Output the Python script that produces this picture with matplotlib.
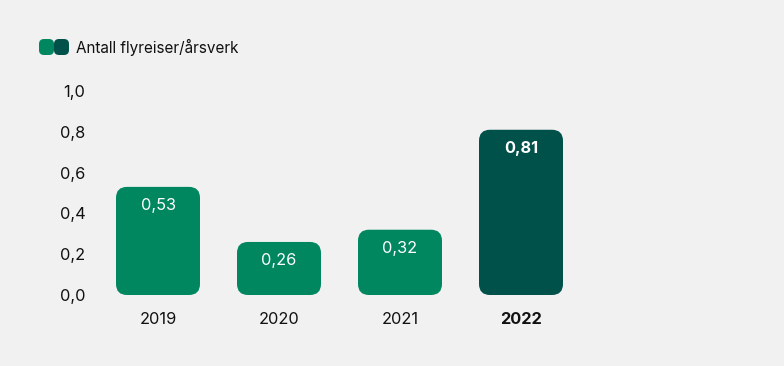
import matplotlib.pyplot as plt
from matplotlib.patches import FancyBboxPatch

plt.rcParams['font.family'] = ['Inter', 'DejaVu Sans']

years = ['2019', '2020', '2021', '2022']
values = [0.53, 0.26, 0.32, 0.81]
labels = ['0,53', '0,26', '0,32', '0,81']
yticks = [0.0, 0.2, 0.4, 0.6, 0.8, 1.0]
ytick_labels = ['0,0', '0,2', '0,4', '0,6', '0,8', '1,0']
legend_text = 'Antall flyreiser/årsverk'

light = '#00875F'
dark = '#00514A'
bg = '#F1F1F1'
colors = [light, light, light, dark]

W, H = 784, 366
fig = plt.figure(figsize=(W / 100, H / 100), dpi=100, facecolor=bg)

# axes placed in pixels: y=0 at 295px, y=1 at 91px; categories 121px apart starting at 158px
left_px, right_px = 98, 620
ax = fig.add_axes([left_px / W, (H - 295) / H, (right_px - left_px) / W, 204 / H])
ax.set_facecolor(bg)
ax.set_xlim((left_px - 158) / 121, (right_px - 158) / 121)
ax.set_ylim(0, 1.0)

bar_w = 84 / 121
radius_px = 11
fs = 11.8
for i, (v, c) in enumerate(zip(values, colors)):
    patch = FancyBboxPatch((i - bar_w / 2, 0), bar_w, v,
                           boxstyle=f'round,pad=0,rounding_size={radius_px / 121}',
                           mutation_aspect=121 / 204,
                           facecolor=c, edgecolor='none')
    ax.add_patch(patch)
    bold = i == len(values) - 1
    ax.text(i, v - 19 / 204, labels[i], ha='center', va='center', color='white',
            fontsize=fs, fontweight='bold' if bold else 'normal')
    ax.text(i, -24 / 204, years[i], ha='center', va='center', color='#111111',
            fontsize=fs, fontweight='bold' if bold else 'normal')

ax.set_xticks([])
ax.set_yticks(yticks)
ax.set_yticklabels(ytick_labels, fontsize=fs, color='#111111')
ax.tick_params(axis='y', length=0, pad=9)
for s in ax.spines.values():
    s.set_visible(False)

# legend swatches + text
for k, c in enumerate([light, dark]):
    x0 = (39 + 15 * k) / W
    sw = FancyBboxPatch((x0, (H - 55) / H), 15 / W, 16 / H,
                        boxstyle=f'round,pad=0,rounding_size={5 / W}',
                        mutation_aspect=W / H,
                        transform=fig.transFigure, facecolor=c, edgecolor='none')
    fig.patches.append(sw)
fig.text(76 / W, (H - 47) / H, legend_text, ha='left', va='center', fontsize=11,
         color='#111111')

fig.savefig('out.png', dpi=100, facecolor=bg)
